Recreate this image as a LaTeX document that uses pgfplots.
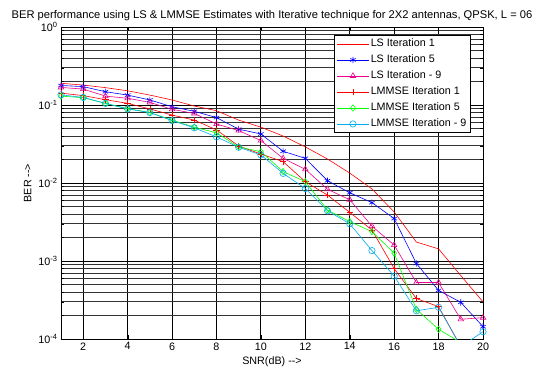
\documentclass[border=0pt]{standalone}
\usepackage{fontspec}
\setmainfont{Liberation Sans}
\usepackage{pgfplots}
\pgfplotsset{compat=1.18}
\pgfplotstableread{
x ls1 ls5 ls9 lm1 lm5 lm9
1 0.19 0.178 0.168 0.142 0.130 0.135
2 0.18 0.172 0.160 0.132 0.124 0.125
3 0.167 0.148 0.130 0.117 0.105 0.105
4 0.152 0.134 0.122 0.105 0.090 0.089
5 0.134 0.116 0.108 0.089 0.080 0.080
6 0.116 0.095 0.088 0.0744 0.064 0.063
7 0.097 0.083 0.078 0.064 0.052 0.051
8 0.0845 0.069 0.057 0.048 0.044 0.039
9 0.064 0.049 0.047 0.0298 0.029 0.0287
10 0.052 0.0425 0.035 0.0235 0.0252 0.0229
11 0.040 0.0255 0.0207 0.0188 0.0140 0.0133
12 0.029 0.0207 0.015 0.0104 0.0104 0.0085
13 0.0203 0.0107 0.0083 0.0070 0.0045 0.0044
14 0.0134 0.0075 0.0061 0.0042 0.0032 0.0030
15 0.0084 0.0056 0.0028 0.0025 0.00238 0.00136
16 0.00425 0.0035 0.0016 0.0008 0.00126 0.00064
17 0.00175 0.00093 0.00053 0.00033 0.00024 0.00023
18 0.00143 0.00042 0.00053 0.00026 0.000133 0.000255
19 0.00065 0.000295 0.000179 0.00008 0.00009 0.00008
20 0.0003 0.000144 0.000188 0.00003 0.00003 0.000124
}\datatable
\begin{document}
\begin{tikzpicture}
\useasboundingbox (-61bp,-32bp) rectangle (478bp,339bp);
\begin{axis}[
  scale only axis, width=422bp, height=312bp,
  ymode=log, xmin=1, xmax=20, ymin=1e-4, ymax=1,
  xtick={2,4,...,20},
  ytick={1e-4,1e-3,1e-2,1e-1,1},
  yticklabels={10\textsuperscript{-4},10\textsuperscript{-3},10\textsuperscript{-2},10\textsuperscript{-1},10\textsuperscript{0}},
  minor ytick={2e-4,3e-4,4e-4,5e-4,6e-4,7e-4,8e-4,9e-4,2e-3,3e-3,4e-3,5e-3,6e-3,7e-3,8e-3,9e-3,2e-2,3e-2,4e-2,5e-2,6e-2,7e-2,8e-2,9e-2,2e-1,3e-1,4e-1,5e-1,6e-1,7e-1,8e-1,9e-1},
  xticklabel style={/pgf/number format/assume math mode=true},
  grid=both,
  major grid style={black, line width=0.8pt},
  minor grid style={black!80, line width=0.8pt},
  tick align=inside,
  axis line style={black, line width=0.8pt},
  tick style={black},
  ticklabel style={font=\fontsize{10.8}{13}\selectfont},
  title={BER performance using LS \& LMMSE Estimates with Iterative technique for 2X2 antennas, QPSK, L = 06},
  title style={font=\fontsize{11.2}{13}\selectfont, yshift=-3bp},
  xlabel={SNR(dB) -\kern0pt-\kern0pt>},
  ylabel={BER -\kern0pt-\kern0pt>},
  label style={font=\fontsize{10.8}{13}\selectfont},
  legend cell align=left,
  legend style={at={(0.97,0.975)}, anchor=north east, draw=black, line width=0.8pt,
    font=\fontsize{10.8}{13}\selectfont, row sep=2.5bp, inner sep=2bp,
    nodes={inner sep=1.5bp, text height=8bp, text depth=2.5bp}},
  legend image code/.code={\draw[mark repeat=2,mark phase=2,#1] plot coordinates {(0bp,0bp) (16bp,0bp) (32bp,0bp)};},
  every axis plot/.append style={line width=0.6pt, mark size=3.2pt},
]
\addplot[red, no markers] table[x=x,y=ls1] {\datatable};
\addplot[blue, mark=asterisk] table[x=x,y=ls5] {\datatable};
\addplot[magenta, mark=triangle] table[x=x,y=ls9] {\datatable};
\addplot[red, mark=+] table[x=x,y=lm1] {\datatable};
\addplot[green, mark=diamond] table[x=x,y=lm5] {\datatable};
\addplot[cyan, mark=o] table[x=x,y=lm9] {\datatable};
\legend{LS Iteration 1, LS Iteration 5, LS Iteration - 9, LMMSE Iteration 1, LMMSE Iteration 5, LMMSE Iteration - 9}
\end{axis}
\end{tikzpicture}
\end{document}
